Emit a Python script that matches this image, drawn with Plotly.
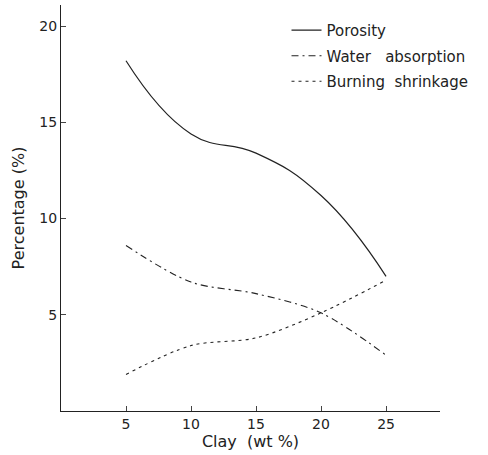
import plotly.graph_objects as go

clay = [5, 10, 15, 20, 25]
porosity = [18.2, 14.4, 13.4, 11.2, 7.0]
water_absorption = [8.6, 6.7, 6.1, 5.1, 2.9]
burning_shrinkage = [1.9, 3.4, 3.8, 5.1, 6.8]

x_ticks = [5, 10, 15, 20, 25]
y_ticks = [5, 10, 15, 20]

FONT = "DejaVu Sans"
INK = "#222222"

fig = go.Figure()
fig.add_trace(go.Scatter(x=clay, y=porosity, name="Porosity", mode="lines",
                         line=dict(color=INK, width=1.2, shape="spline", smoothing=1.3),
                         legendgroup="a"))
fig.add_trace(go.Scatter(x=clay, y=water_absorption, name="Water   absorption", mode="lines",
                         line=dict(color=INK, width=1.1, shape="spline", smoothing=0.9,
                                   dash="7px,4px,2px,4px"),
                         legendgroup="b"))
fig.add_trace(go.Scatter(x=clay, y=burning_shrinkage, name="Burning  shrinkage", mode="lines",
                         line=dict(color=INK, width=1.1, shape="spline", smoothing=0.9,
                                   dash="3px,4px"),
                         legendgroup="c"))

fig.update_layout(
    width=488, height=455,
    margin=dict(l=61, r=48, t=5, b=44),
    paper_bgcolor="white", plot_bgcolor="white",
    font=dict(family=FONT, color=INK, size=14),
    showlegend=True,
    legend=dict(x=0.595, y=0.978, xanchor="left", yanchor="top",
                bgcolor="rgba(0,0,0,0)", font=dict(size=15, family=FONT),
                tracegroupgap=3, itemwidth=30),
    xaxis=dict(range=[0, 29.15], tickvals=x_ticks, ticks="inside", ticklen=5,
               showline=True, linecolor=INK, linewidth=1.3, showgrid=False, zeroline=False,
               tickfont=dict(size=14), title=dict(text="Clay  (wt %)", font=dict(size=16), standoff=4)),
    yaxis=dict(range=[0, 21.1], tickvals=y_ticks, ticktext=["5", "10", "15", "20"],
               ticks="inside", ticklen=5,
               showline=True, linecolor=INK, linewidth=1.3, showgrid=False, zeroline=False,
               tickfont=dict(size=14), title=dict(text="Percentage (%)", font=dict(size=16), standoff=10)),
)

fig.write_html("out.html")
